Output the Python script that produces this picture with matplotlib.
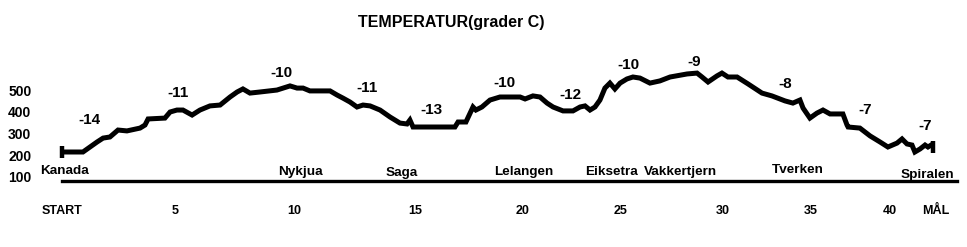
import matplotlib
matplotlib.use("Agg")
import matplotlib.pyplot as plt

plt.rcParams['font.family'] = ['Liberation Sans', 'DejaVu Sans']
plt.rcParams['font.weight'] = 'bold'

# ---- data ----
distance_km = [0.00, 1.01, 1.35, 1.69, 1.98, 2.31, 2.70, 3.13, 3.76, 4.00, 4.15, 4.96,
               5.21, 5.54, 5.83, 6.27, 6.65, 7.13, 7.62, 8.10, 8.44, 8.72, 9.06, 9.54,
               10.36, 10.99, 11.33, 11.62, 11.95, 12.92, 13.26, 13.54, 13.88, 14.22, 14.51,
               14.85, 15.33, 15.81, 16.29, 16.63, 16.77, 16.92, 18.94, 19.09, 19.47, 19.81,
               19.95, 20.24, 20.63, 21.11, 22.08, 22.32, 22.70, 23.04, 23.38, 23.67, 24.15,
               24.63, 24.97, 25.21, 25.45, 25.69, 25.93, 26.17, 26.41, 26.65, 26.90, 27.23,
               27.52, 27.86, 28.34, 28.82, 29.31, 30.13, 30.61, 30.85, 31.14, 31.57, 31.81,
               32.10, 32.54, 33.07, 33.74, 34.22, 34.85, 35.23, 35.57, 35.72, 36.05, 36.39,
               36.68, 37.02, 37.64, 37.84, 37.89, 38.46, 38.95, 39.43, 39.81, 40.25, 40.49,
               40.73, 40.97, 41.11, 41.36, 41.60, 41.74, 41.98]
elevation_m = [215, 215, 238, 261, 279, 284, 316, 312, 325, 339, 367, 371,
               399, 408, 408, 385, 408, 427, 431, 468, 491, 505, 486, 491,
               500, 519, 509, 509, 496, 496, 477, 463, 445, 422, 431,
               427, 408, 376, 348, 344, 362, 330, 330, 353, 353, 422,
               408, 422, 454, 468, 468, 459, 473, 468, 440, 422, 404,
               404, 422, 427, 408, 422, 454, 509, 532, 505, 532, 551,
               560, 555, 532, 542, 560, 574, 578, 560, 537, 565, 578,
               560, 560, 528, 486, 473, 450, 440, 454, 417, 371, 394,
               408, 390, 390, 339, 330, 325, 289, 261, 238, 256, 275,
               252, 247, 215, 229, 247, 238, 252]

temp_labels = ["-14", "-11", "-10", "-11", "-13", "-10", "-12", "-10", "-9", "-8", "-7", "-7"]
temp_km = [1.30, 5.59, 10.60, 14.70, 17.83, 21.35, 24.53, 27.28, 30.46, 34.85, 38.70, 41.60]
temp_elev = [362, 486, 578, 509, 408, 532, 477, 615, 629, 528, 408, 335]

places = ["Kanada", "Nykjua", "Saga", "Lelangen", "Eiksetra", "Vakkertjern", "Tverken", "Spiralen"]
place_km = [0.10, 11.47, 16.39, 22.27, 26.51, 29.79, 35.48, 41.69]
place_elev = [128, 123, 118, 123, 123, 123, 132, 109]

xtick_pos = [0.0, 5.45, 11.18, 17.01, 22.22, 26.90, 31.86, 36.10, 39.91, 42.13]
xtick_labels = ["START", "5", "10", "15", "20", "25", "30", "35", "40", "MÅL"]
ytick_vals = [100, 200, 300, 400, 500]

title = "TEMPERATUR(grader C)"

# ---- figure ----
W, H = 967, 247
fig = plt.figure(figsize=(W / 100, H / 100), dpi=100)
fig.patch.set_facecolor("white")
ax = fig.add_axes([62 / W, (H - 181) / H, 895 / W, 141 / H])
ax.set_xlim(0, 43.14)
ax.set_ylim(81.6, 730.2)

ax.plot(distance_km, elevation_m, color="black", lw=3.6, solid_joinstyle="miter",
        solid_capstyle="butt", clip_on=False, zorder=3)
ax.plot([distance_km[0], distance_km[-1]], [elevation_m[0], elevation_m[-1] - 14],
        ls="none", marker="|", ms=8.5, mew=3.2, color="black", clip_on=False, zorder=3)

for t, x, y in zip(temp_labels, temp_km, temp_elev):
    ax.text(x, y, t, ha="center", va="center", fontsize=11, fontweight="bold", clip_on=False)

for p, x, y in zip(places, place_km, place_elev):
    ax.text(x, y, p, ha="center", va="center", fontsize=9.7, fontweight="bold", clip_on=False)

for s in ["top", "right", "left"]:
    ax.spines[s].set_visible(False)
ax.spines["bottom"].set_linewidth(2.4)
ax.spines["bottom"].set_color("black")

ax.set_xticks(xtick_pos, xtick_labels)
ax.set_yticks(ytick_vals, [str(v) for v in ytick_vals])
ax.tick_params(axis="x", length=0, pad=17, labelsize=9)
ax.tick_params(axis="y", length=0, pad=22, labelsize=10)
for lbl in ax.get_xticklabels() + ax.get_yticklabels():
    lbl.set_fontweight("bold")

fig.text(451 / W, 1 - 23 / H, title, ha="center", va="center", fontsize=11.5, fontweight="bold")

fig.savefig("out.png", dpi=100, facecolor="white")
